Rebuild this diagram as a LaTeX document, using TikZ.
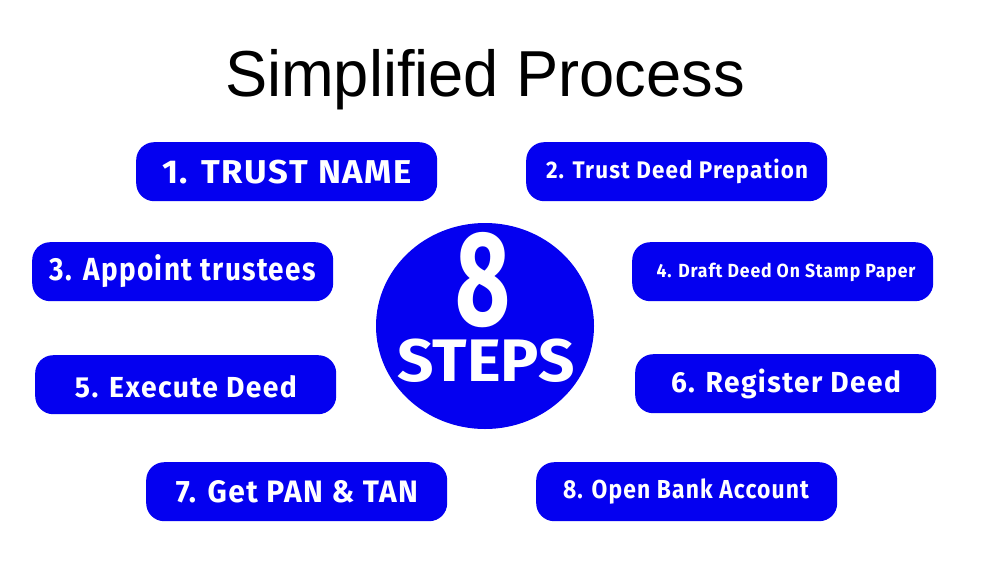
\documentclass[tikz,border=0pt]{standalone}
\usepackage{fontspec}
\setmainfont{Liberation Sans}
\newfontfamily\dinfont{Fira Sans}[LetterSpace=5]
\newfontfamily\hubfont{Fira Sans}
\usepackage{graphicx}
\usetikzlibrary{shapes.geometric}
\definecolor{stepblue}{RGB}{4,0,240}
\tikzset{
  stepbox/.style={fill=stepblue, draw=none, rounded corners=18pt, minimum width=301pt, minimum height=59pt, inner sep=0pt, anchor=north west},
  steptxt/.style={text=white, anchor=base, inner sep=0pt},
}
\newcommand{\stepfont}[1]{\dinfont\bfseries\fontsize{#1}{#1}\selectfont}
\newcommand{\hubsize}[1]{\hubfont\bfseries\fontsize{#1}{#1}\selectfont}
\begin{document}
\begin{tikzpicture}[x=1pt,y=-1pt]
\useasboundingbox[fill=white] (0,0) rectangle (1000,562);
\node[anchor=base, inner sep=0pt, font=\fontsize{65}{65}\selectfont] (title) at (485,96) {\resizebox{520pt}{\height}{Simplified Process}};

\node[stepbox] (b1) at (136,142) {};
\node[stepbox] (b2) at (526,142) {};
\node[stepbox] (b3) at (32,242) {};
\node[stepbox] (b4) at (632,242) {};
\node[stepbox] (b5) at (35,355) {};
\node[stepbox] (b6) at (635,354) {};
\node[stepbox] (b7) at (146,462) {};
\node[stepbox] (b8) at (536,462) {};

\node[steptxt, font=\stepfont{33}] (t1) at (287,183) {\resizebox{250pt}{\height}{1. TRUST NAME}};
\node[steptxt, font=\stepfont{24}] (t2) at (677,178) {\resizebox{262pt}{\height}{2. Trust Deed Prepation}};
\node[steptxt, font=\stepfont{32}] (t3) at (183,280) {\resizebox{266pt}{\height}{3. Appoint trustees}};
\node[steptxt, font=\stepfont{19}] (t4) at (786,277) {\resizebox{259pt}{\height}{4. Draft Deed On Stamp Paper}};
\node[steptxt, font=\stepfont{29}] (t5) at (186,397) {\resizebox{222pt}{\height}{5. Execute Deed}};
\node[steptxt, font=\stepfont{29}] (t6) at (786,392) {\resizebox{230pt}{\height}{6. Register Deed}};
\node[steptxt, font=\stepfont{31}] (t7) at (297,502) {\resizebox{242pt}{\height}{7. Get PAN \& TAN}};
\node[steptxt, font=\stepfont{26}] (t8) at (686,498) {\resizebox{246pt}{\height}{8. Open Bank Account}};

\node[ellipse, fill=stepblue, draw=none, minimum width=218pt, minimum height=206pt, inner sep=0pt] (hub) at (485,326) {};
\node[steptxt, font=\hubsize{135}] (eight) at (483,325) {\resizebox{55pt}{\height}{8}};
\node[steptxt, font=\hubsize{60}] (steps) at (486,381) {\resizebox{177pt}{\height}{STEPS}};
\end{tikzpicture}
\end{document}
